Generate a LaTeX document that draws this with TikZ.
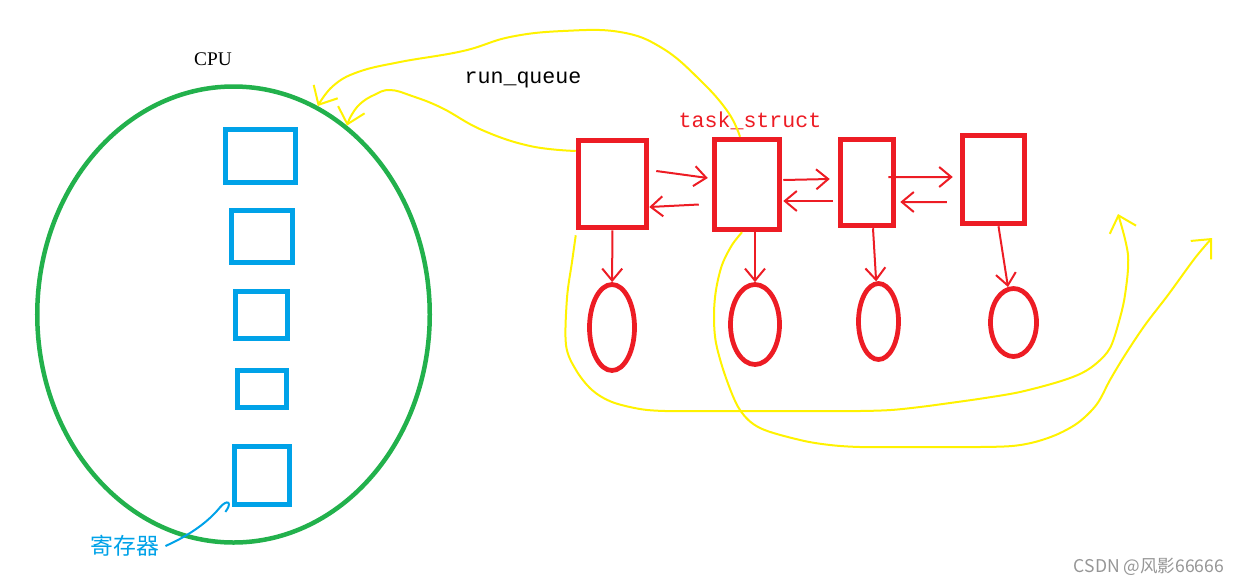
\documentclass[tikz,border=0pt]{standalone}
\usepackage{fontspec}
\setmainfont{Liberation Serif}
\setmonofont{Liberation Mono}
\newfontfamily\cjkfont{Noto Sans CJK SC}
\usepackage{xcolor}
\usetikzlibrary{arrows.meta,shapes.geometric}
\definecolor{cpucol}{RGB}{34,177,76}
\definecolor{regcol}{RGB}{0,162,232}
\definecolor{taskcol}{RGB}{237,28,36}
\definecolor{wirecol}{RGB}{255,242,0}
\definecolor{markcol}{RGB}{150,150,150}

\begin{document}
\begin{tikzpicture}[
  x=0.2mm, y=-0.2mm,
  reg/.style={draw=regcol,line width=0.9mm,inner sep=0pt},
  task/.style={draw=taskcol,line width=1.1mm,inner sep=0pt},
  obj/.style={draw=taskcol,ellipse,line width=0.95mm,inner sep=0pt},
  link/.style={->,taskcol,line width=0.4mm},
  wire/.style={-{Straight Barb[length=3mm,width=5.5mm]},wirecol,line width=0.4mm},
  code/.style={font=\ttfamily\fontsize{12.3}{14}\selectfont},
  >={Straight Barb[length=2.4mm,width=4mm]}]
\useasboundingbox (0,0) rectangle (1237,585);
\node[draw=cpucol,ellipse,line width=0.9mm,inner sep=0pt,
  minimum width=78.5mm,minimum height=91.2mm] (cpu) at (233.5,314.5) {};
\node[font=\fontsize{11}{13}\selectfont] (cpuname) at (213,59) {CPU};
\node[reg,minimum width=14mm,minimum height=10.6mm] (r1) at (260.5,156) {};
\node[reg,minimum width=12.2mm,minimum height=10.4mm] (r2) at (262,236.5) {};
\node[reg,minimum width=10.4mm,minimum height=9.4mm] (r3) at (261.5,315) {};
\node[reg,minimum width=9.8mm,minimum height=7.4mm] (r4) at (262,389) {};
\node[reg,minimum width=11mm,minimum height=11.6mm] (r5) at (262,475.5) {};
\node[text=regcol,font=\cjkfont\fontsize{13}{15}\selectfont] (regname) at (125,546) {寄存器};
\draw[regcol,line width=0.4mm,-{Hooks[right,length=2mm,width=3.2mm]}] (regname.east)
  .. controls (190,535) and (208,522) .. ([xshift=-1.2mm,yshift=1.4mm]r5.south west);

\node[code] (rq) at (523,80) {run\_queue};
\node[code,text=taskcol] (ts) at (750,121) {task\_struct};
\node[task,minimum width=13.6mm,minimum height=17.4mm] (t1) at (612.5,184) {};
\node[task,minimum width=13mm,minimum height=18mm] (t2) at (747,184.5) {};
\node[task,minimum width=10.6mm,minimum height=17.2mm] (t3) at (867,182.5) {};
\node[task,minimum width=12.4mm,minimum height=17.6mm] (t4) at (993.5,179.5) {};
\node[obj,minimum width=9mm,minimum height=17.2mm] (e1) at (612,327.5) {};
\node[obj,minimum width=9.8mm,minimum height=16mm] (e2) at (755,324.5) {};
\node[obj,minimum width=8mm,minimum height=15.2mm] (e3) at (878.5,321.5) {};
\node[obj,minimum width=9.2mm,minimum height=13.6mm] (e4) at (1013.5,322.5) {};

\draw[link] ([xshift=1.4mm,yshift=2.6mm]t1.east) -- ([xshift=-0.8mm,yshift=1.3mm]t2.west);
\draw[link] ([xshift=-2.6mm,yshift=-4mm]t2.west) -- ([yshift=-4.6mm]t1.east);
\draw[link] ([xshift=0.2mm,yshift=0.9mm]t2.east) -- ([xshift=-1.6mm,yshift=0.7mm]t3.west);
\draw[link] ([xshift=-1mm,yshift=-3.7mm]t3.west) -- ([xshift=0.2mm,yshift=-3.3mm]t2.east);
\draw[link] ([xshift=-1.6mm,yshift=1.1mm]t3.east) -- ([xshift=-1.4mm,yshift=0.5mm]t4.west);
\draw[link] ([xshift=-2.6mm,yshift=-4.5mm]t4.west) -- ([xshift=0.8mm,yshift=-3.9mm]t3.east);
\draw[link] (t1) -- (e1);
\draw[link] (t2.south -| e2.north) -- (e2);
\draw[link] ([xshift=1.2mm]t3.south) -- (e3);
\draw[link] ([xshift=1mm]t4.south) -- (e4);

\coordinate (tipC) at (1118,214);
\coordinate (tipD) at (1212,238);
\draw[wire] plot[smooth,tension=0.7] coordinates {([xshift=-1.4mm]t2.north) (728,112) (700,80)
  (662,48) (620,32) (563,31) (510,37) (463,51) (400,62) (358,72) (333,86) (cpu.68)};
\draw[wire] plot[smooth,tension=0.7] coordinates {([yshift=6.6mm]t1.west) (530,146) (482,130)
  (442,108) (412,96) (390,90) (374,95) (360,104) (351,116) (cpu.59)};
\draw[wire] plot[smooth,tension=0.55] coordinates {([yshift=-1mm]t1.south west) (572,262) (567,298)
  (566,345) (576,370) (592,390) (612,402) (640,409) (665,411) (700,411) (740,411) (780,411)
  (820,411) (860,411) (891,410) (920,407) (950,403) (985,398) (1020,392) (1058,382) (1082,373)
  (1098,362) (1110,348) (1118,325) (1125,295) (1128,255) (tipC)};
\draw[wire] plot[smooth,tension=0.55] coordinates {([xshift=-1mm]t2.south) (732,245) (722,265)
  (716,290) (714,315) (716,343) (726,378) (740,410) (760,428) (800,440) (830,445) (860,447)
  (900,447) (940,447) (980,447) (1012,446) (1035,442) (1058,434) (1079,422) (1097,404)
  (1110,380) (1125,355) (1145,325) (1168,295) (1195,258) (tipD)};

\node[text=markcol,font=\cjkfont\fontsize{10}{12}\selectfont] (mark) at (1149,567) {CSDN @风影66666};
\end{tikzpicture}
\end{document}
